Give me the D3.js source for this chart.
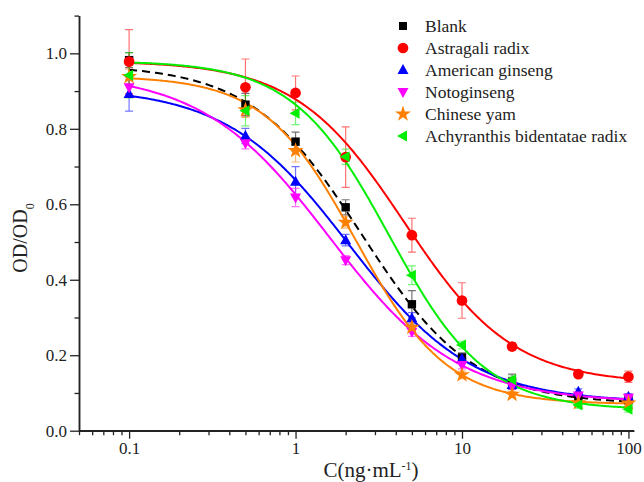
<!DOCTYPE html>
<html>
<head>
<meta charset="utf-8">
<script src="https://cdn.jsdelivr.net/npm/d3@7"></script>
<style>
body{margin:0;background:#fff;}
text{font-family:"Liberation Serif","Times New Roman",serif;fill:#222;}
</style>
</head>
<body>
<div id="vis1"></div>
<script>
// concentrations (ng/mL)
var conc = [0.1, 0.5, 1, 2, 5, 10, 20, 50, 100];
var names = ["Blank","Astragali radix","American ginseng","Notoginseng","Chinese yam","Achyranthis bidentatae radix"];
var colors = ["#000000","#ff0000","#0000ff","#ff00ff","#ff8000","#00ee00"];
var shapes = ["square","circle","up","down","star","left"];

// OD/OD0 values
var blank    = [0.982, 0.864, 0.766, 0.592, 0.335, 0.194, 0.130, 0.090, 0.081];
var astragali= [0.978, 0.910, 0.895, 0.725, 0.518, 0.345, 0.223, 0.150, 0.143];
var american = [0.892, 0.781, 0.660, 0.505, 0.298, 0.190, 0.121, 0.103, 0.090];
var noto     = [0.910, 0.762, 0.618, 0.452, 0.262, 0.174, 0.118, 0.093, 0.087];
var yam      = [0.938, 0.850, 0.742, 0.552, 0.274, 0.148, 0.096, 0.074, 0.073];
var achy     = [0.942, 0.848, 0.841, 0.726, 0.412, 0.227, 0.135, 0.068, 0.057];

// error bars (+/-)
var blankErr    = [0.020, 0.030, 0.025, 0.020, 0.036, 0.012, 0.020, 0.010, 0.010];
var astragaliErr= [0.085, 0.075, 0.045, 0.080, 0.045, 0.047, 0.010, 0.008, 0.015];
var americanErr = [0.045, 0.020, 0.040, 0.015, 0.015, 0.010, 0.010, 0.008, 0.008];
var notoErr     = [0.020, 0.015, 0.024, 0.012, 0.012, 0.010, 0.008, 0.008, 0.008];
var yamErr      = [0.020, 0.020, 0.030, 0.015, 0.012, 0.010, 0.008, 0.008, 0.008];
var achyErr     = [0.060, 0.040, 0.030, 0.020, 0.025, 0.010, 0.010, 0.008, 0.008];

// logistic fit parameters of each curve (A1, A2, x0, p)
var fitA1 = [0.97, 0.98, 0.91, 0.95, 0.94, 0.98];
var fitA2 = [0.07, 0.125, 0.075, 0.075, 0.07, 0.055];
var fitX0 = [2.5, 4.5, 2.1, 1.6, 2.3, 3.65];
var fitP  = [1.3, 1.33, 1.18, 1.13, 1.58, 1.5];

var values = [blank, astragali, american, noto, yam, achy];
var errs = [blankErr, astragaliErr, americanErr, notoErr, yamErr, achyErr];

var xTicks = [0.1, 1, 10, 100];
var yTicks = [0.0, 0.2, 0.4, 0.6, 0.8, 1.0];

var svg = d3.select("#vis1").append("svg").attr("width", 644).attr("height", 482);

var x = d3.scaleLog().domain([0.05, 108]).range([79, 634]);
var y = d3.scaleLinear().domain([0, 1.1]).range([430.7, 15.6]);

// axes
var xAxis = svg.append("g").attr("transform","translate(0,430.7)")
    .call(d3.axisBottom(x).tickValues(xTicks).tickFormat(d3.format("~g")).tickSize(8).tickPadding(3));
var minorX = [];
for (var e = -2; e <= 2; e++) for (var m = 1; m <= 9; m++) {
    var v = m * Math.pow(10, e);
    if (v >= 0.05 && v <= 108 && m != 1) minorX.push(v);
}
svg.append("g").attr("transform","translate(0,430.7)")
    .call(d3.axisBottom(x).tickValues(minorX).tickFormat("").tickSize(4.5).tickSizeOuter(0));
var yAxis = svg.append("g").attr("transform","translate(79,0)")
    .call(d3.axisLeft(y).tickValues(yTicks).tickFormat(d3.format(".1f")).tickSize(9).tickPadding(3).tickSizeOuter(0));
svg.append("g").attr("transform","translate(79,0)")
    .call(d3.axisLeft(y).tickValues([0.1,0.3,0.5,0.7,0.9,1.1]).tickFormat("").tickSize(4.5).tickSizeOuter(0));

svg.selectAll(".domain").attr("stroke","#222").attr("stroke-width",1.5);
svg.selectAll(".tick line").attr("stroke","#222").attr("stroke-width",1.3);
svg.selectAll(".tick text").attr("font-size","17px").attr("font-family","Liberation Serif").attr("fill","#222");
xAxis.selectAll(".domain").attr("d","M79,0H634");

// axis titles
var yt = svg.append("text").attr("transform","translate(27,238) rotate(-90)")
    .attr("text-anchor","middle").attr("font-size","20px");
yt.append("tspan").text("OD/OD");
yt.append("tspan").text("0").attr("font-size","12px").attr("baseline-shift","sub");

var xt = svg.append("text").attr("x",371).attr("y",477).attr("text-anchor","middle").attr("font-size","21px");
xt.append("tspan").text("C(ng·mL");
xt.append("tspan").text("-1").attr("font-size","12px").attr("baseline-shift","super");
xt.append("tspan").text(")");

// fitted curves
function logistic(i, c){
    return fitA2[i] + (fitA1[i]-fitA2[i])/(1+Math.pow(c/fitX0[i], fitP[i]));
}
var curveX = d3.range(0, 301).map(function(k){ return Math.pow(10, -1 + 3*k/300); });
var line = d3.line().x(function(d){ return x(d[0]); }).y(function(d){ return y(d[1]); });

// marker path for each shape
function markerPath(shape, s){
    if (shape == "square") return "M"+(-s)+","+(-s)+"h"+(2*s)+"v"+(2*s)+"h"+(-2*s)+"Z";
    if (shape == "up") return "M0,"+(-s*1.2)+"L"+(s*1.1)+","+(s*0.8)+"L"+(-s*1.1)+","+(s*0.8)+"Z";
    if (shape == "down") return "M0,"+(s*1.2)+"L"+(s*1.1)+","+(-s*0.8)+"L"+(-s*1.1)+","+(-s*0.8)+"Z";
    if (shape == "left") return "M"+(-s*1.2)+",0L"+(s*0.8)+","+(-s*1.1)+"L"+(s*0.8)+","+(s*1.1)+"Z";
    if (shape == "star") return d3.symbol(d3.symbolStar, s*s*3.2)();
    return d3.symbol(d3.symbolCircle, s*s*3.6)();
}

// draw order: error bars, lines, markers
for (var i = 0; i < names.length; i++) {
    var g = svg.append("g");
    var pts = conc.map(function(c, k){ return [c, values[i][k], errs[i][k]]; });
    g.selectAll("line.err").data(pts).enter().append("path")
        .attr("d", function(d){
            var x0 = x(d[0]), y1 = y(d[1]+d[2]), y2 = y(d[1]-d[2]);
            return "M"+x0+","+y1+"V"+y2+"M"+(x0-4)+","+y1+"H"+(x0+4)+"M"+(x0-4)+","+y2+"H"+(x0+4);
        })
        .attr("stroke", colors[i]).attr("stroke-opacity",0.55).attr("stroke-width",1.2).attr("fill","none");
}
for (var i = 0; i < names.length; i++) {
    var ii = i;
    svg.append("path").datum(curveX.map(function(c){ return [c, logistic(ii, c)]; }))
        .attr("d", line).attr("fill","none").attr("stroke", colors[i]).attr("stroke-width",2)
        .attr("stroke-dasharray", i == 0 ? "8,5" : null);
}
for (var i = 0; i < names.length; i++) {
    var pts = conc.map(function(c, k){ return [c, values[i][k]]; });
    svg.append("g").selectAll("path").data(pts).enter().append("path")
        .attr("transform", function(d){ return "translate("+x(d[0])+","+y(d[1])+")"; })
        .attr("d", markerPath(shapes[i], shapes[i]=="square" ? 4.2 : 5))
        .attr("fill", colors[i]);
}

// legend
for (var i = 0; i < names.length; i++) {
    var ly = 26 + i*22;
    svg.append("path").attr("transform","translate(403,"+ly+")")
        .attr("d", markerPath(shapes[i], shapes[i]=="square" ? 4 : 5)).attr("fill", colors[i]);
    svg.append("text").text(names[i]).attr("x",425).attr("y",ly+6).attr("font-size","17.5px");
}
</script>
</body>
</html>
